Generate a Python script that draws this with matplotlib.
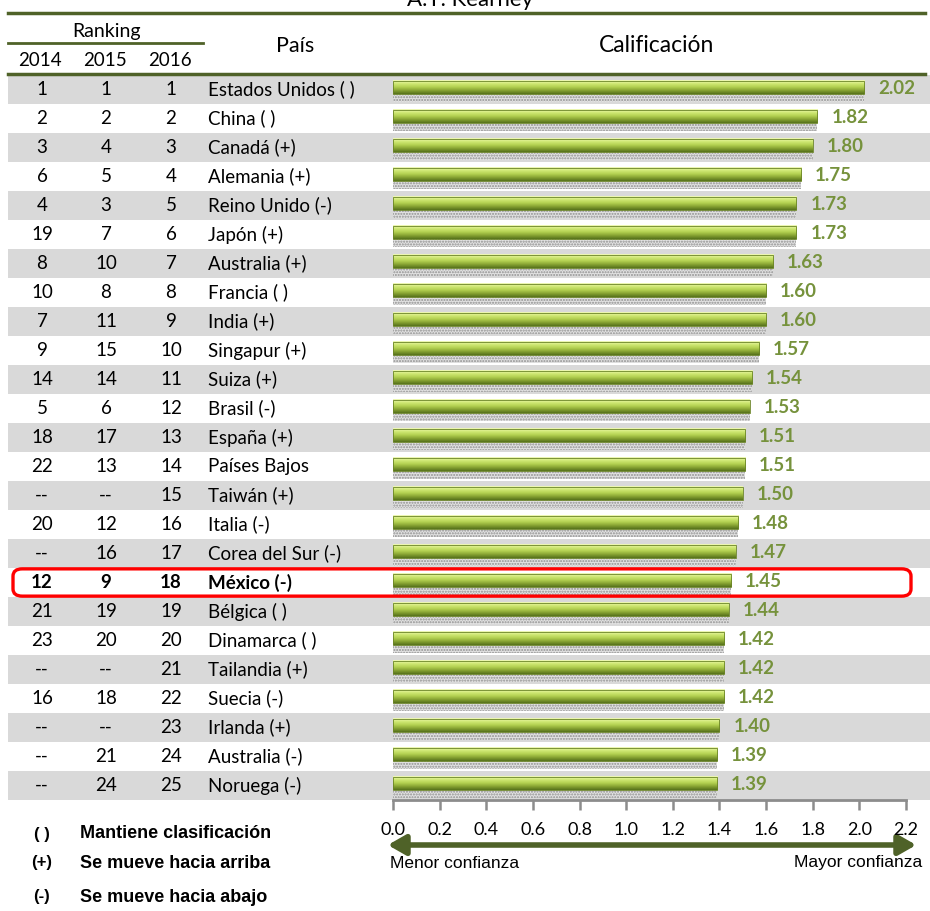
import numpy as np
import matplotlib
matplotlib.use("Agg")
import matplotlib.pyplot as plt
from matplotlib import transforms
from matplotlib.patches import Rectangle, FancyBboxPatch, FancyArrowPatch
from matplotlib.colors import LinearSegmentedColormap

# datos
rank_2014 = ['1', '2', '3', '6', '4', '19', '8', '10', '7', '9', '14', '5', '18',
             '22', '--', '20', '--', '12', '21', '23', '--', '16', '--', '--', '--']
rank_2015 = ['1', '2', '4', '5', '3', '7', '10', '8', '11', '15', '14', '6', '17',
             '13', '--', '12', '16', '9', '19', '20', '--', '18', '--', '21', '24']
rank_2016 = [str(i) for i in range(1, 26)]
paises = ['Estados Unidos ( )', 'China ( )', 'Canadá (+)', 'Alemania (+)',
          'Reino Unido (-)', 'Japón (+)', 'Australia (+)', 'Francia ( )',
          'India (+)', 'Singapur (+)', 'Suiza (+)', 'Brasil (-)', 'España (+)',
          'Países Bajos', 'Taiwán (+)', 'Italia (-)', 'Corea del Sur (-)',
          'México (-)', 'Bélgica ( )', 'Dinamarca ( )', 'Tailandia (+)',
          'Suecia (-)', 'Irlanda (+)', 'Australia (-)', 'Noruega (-)']
calif = [2.02, 1.82, 1.80, 1.75, 1.73, 1.73, 1.63, 1.60, 1.60, 1.57, 1.54, 1.53,
         1.51, 1.51, 1.50, 1.48, 1.47, 1.45, 1.44, 1.42, 1.42, 1.42, 1.40, 1.39, 1.39]
ticks = [0.0, 0.2, 0.4, 0.6, 0.8, 1.0, 1.2, 1.4, 1.6, 1.8, 2.0, 2.2]
leyenda = [('( )', 'Mantiene clasificación'),
           ('(+)', 'Se mueve hacia arriba'),
           ('(-)', 'Se mueve hacia abajo')]
resaltar = 'México (-)'

W, H = 930, 911
verde = '#4F6228'
verde_txt = '#76923C'
fuente = 'Lato'

fig = plt.figure(figsize=(W / 100, H / 100), dpi=100)

def fx(px):
    return px / W

def fy(py):
    return 1 - py / H

# ejes de las barras
ax = fig.add_axes([fx(393), fy(800), fx(906) - fx(393), fy(75) - fy(800)])
ax.set_zorder(2)
n = len(paises)
ax.set_xlim(0, 2.2)
ax.set_ylim(n - 0.5, -0.5)
ax.patch.set_alpha(0)

mezcla = transforms.blended_transform_factory(fig.transFigure, ax.transData)

# filas sombreadas (detras de los ejes)
for i in range(n):
    if i % 2 == 0:
        fig.patches.append(Rectangle((fx(8), i - 0.5), 1 - fx(8), 1, transform=mezcla,
                                     facecolor='#D9D9D9', edgecolor='none', zorder=0))

# barras con degradado y sombra punteada
cmap = LinearSegmentedColormap.from_list('barra', ['#F0F9B8', '#D0E874', '#B2D050', '#86A232', '#56711B'])
grad = np.linspace(0, 1, 64).reshape(-1, 1)
for i, v in enumerate(calif):
    ax.barh(i + 0.29, v, height=0.28, color='#E2E2E2', hatch='......', edgecolor='#909090',
            linewidth=0, zorder=2)
    ax.imshow(grad, cmap=cmap, aspect='auto', extent=[0, v, i + 0.16, i - 0.3],
              zorder=3, interpolation='bilinear')
    ax.barh(i - 0.07, v, height=0.46, color='none', edgecolor='#6B8526', linewidth=0.6, zorder=4)
    ax.annotate(f'{v:.2f}', (v, i - 0.03), xytext=(10, 0), textcoords='offset points',
                va='center', ha='left', color=verde_txt, fontweight='bold',
                fontsize=13.5, family=fuente)
ax.set_xlim(0, 2.2)
ax.set_ylim(n - 0.5, -0.5)

# eje x
for s in ['top', 'right', 'left']:
    ax.spines[s].set_visible(False)
ax.spines['bottom'].set_color('#8C8C8C')
ax.spines['bottom'].set_linewidth(2)
ax.set_yticks([])
ax.set_xticks(ticks)
ax.set_xticklabels([f'{t:.1f}' for t in ticks], family=fuente, fontsize=13)
ax.tick_params(axis='x', length=7, width=1.8, color='#8C8C8C', pad=9)

# tabla
for i in range(n):
    peso = 'bold' if paises[i] == resaltar else 'normal'
    for xc, col in [(42, rank_2014), (106, rank_2015), (171, rank_2016)]:
        fig.text(fx(xc), i, col[i], transform=mezcla, ha='center', va='center',
                 fontsize=13.5, family=fuente, fontweight=peso)
    fig.text(fx(208), i, paises[i], transform=mezcla, ha='left', va='center',
             fontsize=13.5, family=fuente, fontweight=peso)

k = paises.index(resaltar)
fig.patches.append(FancyBboxPatch((fx(13), k - 0.47), fx(911) - fx(13), 0.94,
                                  boxstyle='round,pad=0,rounding_size=0.01',
                                  transform=mezcla, facecolor='none',
                                  edgecolor='#FF0000', linewidth=2.4, zorder=6,
                                  mutation_aspect=25))

# encabezado
fig.text(fx(470), fy(6), 'A.T. Kearney', ha='center', va='baseline', fontsize=16, family=fuente)
for yl, x0, x1, lw in [(13, 8, 925, 2.5), (74, 8, 925, 2.5), (43, 8, 203, 2)]:
    fig.add_artist(plt.Line2D([fx(x0), fx(x1)], [fy(yl), fy(yl)], color=verde, lw=lw))
fig.text(fx(106), fy(31), 'Ranking', ha='center', va='center', fontsize=14, family=fuente)
for xc, t in [(40, '2014'), (105, '2015'), (170, '2016')]:
    fig.text(fx(xc), fy(60), t, ha='center', va='center', fontsize=13.5, family=fuente)
fig.text(fx(295), fy(46), 'País', ha='center', va='center', fontsize=15.5, family=fuente)
fig.text(fx(657), fy(46), 'Calificación', ha='center', va='center', fontsize=16.5, family=fuente)

# flecha de confianza
fig.patches.append(FancyArrowPatch((fx(385), fy(845)), (fx(919), fy(845)),
                                   transform=fig.transFigure,
                                   arrowstyle='<|-|>,head_length=0.7,head_width=0.4',
                                   mutation_scale=15, color=verde, linewidth=4))
fig.text(fx(390), fy(863), 'Menor confianza', ha='left', va='center', fontsize=12.5,
         family='Liberation Sans')
fig.text(fx(922), fy(863), 'Mayor confianza', ha='right', va='center', fontsize=12.5,
         family='Liberation Sans')

# leyenda
for (s, t), yl in zip(leyenda, [834, 863, 897]):
    fig.text(fx(42), fy(yl), s, ha='center', va='center', fontsize=12,
             family='Liberation Sans', fontweight='bold')
    fig.text(fx(80), fy(yl), t, ha='left', va='center', fontsize=13,
             family='Liberation Sans', fontweight='bold')

fig.savefig('out.png', dpi=100)
